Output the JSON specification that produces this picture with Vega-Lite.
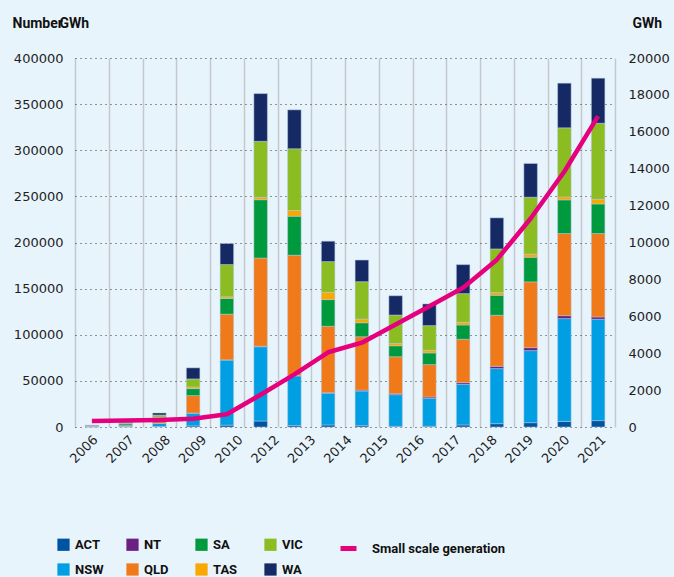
{
  "$schema": "https://vega.github.io/schema/vega-lite/v6.json",
  "width": 540,
  "height": 369,
  "autosize": {"type": "none"},
  "padding": {"left": 75, "top": 58, "right": 59, "bottom": 150},
  "background": "#e8f4fc",
  "config": {
    "view": {"stroke": null},
    "font": "DejaVu Sans",
    "axis": {"labelFont": "DejaVu Sans", "labelFontSize": 13, "labelColor": "#1e1e1e"},
    "legend": {"labelFont": "Roboto", "labelFontSize": 13, "labelFontWeight": "bold", "labelColor": "#111111"}
  },
  "datasets": {
    "installs": [
      {"year": "2006", "state": "ACT", "count": 50}, {"year": "2006", "state": "NSW", "count": 300}, {"year": "2006", "state": "NT", "count": 20}, {"year": "2006", "state": "QLD", "count": 300}, {"year": "2006", "state": "SA", "count": 500}, {"year": "2006", "state": "TAS", "count": 30}, {"year": "2006", "state": "VIC", "count": 400}, {"year": "2006", "state": "WA", "count": 400},
      {"year": "2007", "state": "ACT", "count": 100}, {"year": "2007", "state": "NSW", "count": 800}, {"year": "2007", "state": "NT", "count": 30}, {"year": "2007", "state": "QLD", "count": 600}, {"year": "2007", "state": "SA", "count": 2000}, {"year": "2007", "state": "TAS", "count": 50}, {"year": "2007", "state": "VIC", "count": 700}, {"year": "2007", "state": "WA", "count": 500},
      {"year": "2008", "state": "ACT", "count": 500}, {"year": "2008", "state": "NSW", "count": 3500}, {"year": "2008", "state": "NT", "count": 100}, {"year": "2008", "state": "QLD", "count": 3000}, {"year": "2008", "state": "SA", "count": 3300}, {"year": "2008", "state": "TAS", "count": 300}, {"year": "2008", "state": "VIC", "count": 2300}, {"year": "2008", "state": "WA", "count": 2200},
      {"year": "2009", "state": "ACT", "count": 1200}, {"year": "2009", "state": "NSW", "count": 13600}, {"year": "2009", "state": "NT", "count": 400}, {"year": "2009", "state": "QLD", "count": 18800}, {"year": "2009", "state": "SA", "count": 7600}, {"year": "2009", "state": "TAS", "count": 1800}, {"year": "2009", "state": "VIC", "count": 8700}, {"year": "2009", "state": "WA", "count": 12000},
      {"year": "2010", "state": "ACT", "count": 2000}, {"year": "2010", "state": "NSW", "count": 70500}, {"year": "2010", "state": "NT", "count": 300}, {"year": "2010", "state": "QLD", "count": 49500}, {"year": "2010", "state": "SA", "count": 17000}, {"year": "2010", "state": "TAS", "count": 1800}, {"year": "2010", "state": "VIC", "count": 35000}, {"year": "2010", "state": "WA", "count": 22800},
      {"year": "2011", "state": "ACT", "count": 6500}, {"year": "2011", "state": "NSW", "count": 80500}, {"year": "2011", "state": "NT", "count": 500}, {"year": "2011", "state": "QLD", "count": 95600}, {"year": "2011", "state": "SA", "count": 63300}, {"year": "2011", "state": "TAS", "count": 2500}, {"year": "2011", "state": "VIC", "count": 60800}, {"year": "2011", "state": "WA", "count": 51700},
      {"year": "2012", "state": "ACT", "count": 1500}, {"year": "2012", "state": "NSW", "count": 53900}, {"year": "2012", "state": "NT", "count": 300}, {"year": "2012", "state": "QLD", "count": 130500}, {"year": "2012", "state": "SA", "count": 42300}, {"year": "2012", "state": "TAS", "count": 6200}, {"year": "2012", "state": "VIC", "count": 66900}, {"year": "2012", "state": "WA", "count": 42200},
      {"year": "2013", "state": "ACT", "count": 2200}, {"year": "2013", "state": "NSW", "count": 34500}, {"year": "2013", "state": "NT", "count": 500}, {"year": "2013", "state": "QLD", "count": 72000}, {"year": "2013", "state": "SA", "count": 28900}, {"year": "2013", "state": "TAS", "count": 7900}, {"year": "2013", "state": "VIC", "count": 33300}, {"year": "2013", "state": "WA", "count": 22100},
      {"year": "2014", "state": "ACT", "count": 1400}, {"year": "2014", "state": "NSW", "count": 37600}, {"year": "2014", "state": "NT", "count": 1000}, {"year": "2014", "state": "QLD", "count": 57800}, {"year": "2014", "state": "SA", "count": 15200}, {"year": "2014", "state": "TAS", "count": 4000}, {"year": "2014", "state": "VIC", "count": 40500}, {"year": "2014", "state": "WA", "count": 23500},
      {"year": "2015", "state": "ACT", "count": 700}, {"year": "2015", "state": "NSW", "count": 34300}, {"year": "2015", "state": "NT", "count": 1000}, {"year": "2015", "state": "QLD", "count": 40150}, {"year": "2015", "state": "SA", "count": 11900}, {"year": "2015", "state": "TAS", "count": 2500}, {"year": "2015", "state": "VIC", "count": 30800}, {"year": "2015", "state": "WA", "count": 20900},
      {"year": "2016", "state": "ACT", "count": 800}, {"year": "2016", "state": "NSW", "count": 30300}, {"year": "2016", "state": "NT", "count": 1400}, {"year": "2016", "state": "QLD", "count": 35100}, {"year": "2016", "state": "SA", "count": 12700}, {"year": "2016", "state": "TAS", "count": 2800}, {"year": "2016", "state": "VIC", "count": 26800}, {"year": "2016", "state": "WA", "count": 23500},
      {"year": "2017", "state": "ACT", "count": 2200}, {"year": "2017", "state": "NSW", "count": 44100}, {"year": "2017", "state": "NT", "count": 1800}, {"year": "2017", "state": "QLD", "count": 47000}, {"year": "2017", "state": "SA", "count": 15500}, {"year": "2017", "state": "TAS", "count": 2900}, {"year": "2017", "state": "VIC", "count": 31100}, {"year": "2017", "state": "WA", "count": 31400},
      {"year": "2018", "state": "ACT", "count": 3600}, {"year": "2018", "state": "NSW", "count": 59700}, {"year": "2018", "state": "NT", "count": 2500}, {"year": "2018", "state": "QLD", "count": 55300}, {"year": "2018", "state": "SA", "count": 21700}, {"year": "2018", "state": "TAS", "count": 2900}, {"year": "2018", "state": "VIC", "count": 47300}, {"year": "2018", "state": "WA", "count": 33700},
      {"year": "2019", "state": "ACT", "count": 4700}, {"year": "2019", "state": "NSW", "count": 78100}, {"year": "2019", "state": "NT", "count": 3200}, {"year": "2019", "state": "QLD", "count": 71300}, {"year": "2019", "state": "SA", "count": 26700}, {"year": "2019", "state": "TAS", "count": 3300}, {"year": "2019", "state": "VIC", "count": 61800}, {"year": "2019", "state": "WA", "count": 36500},
      {"year": "2020", "state": "ACT", "count": 6100}, {"year": "2020", "state": "NSW", "count": 111400}, {"year": "2020", "state": "NT", "count": 3200}, {"year": "2020", "state": "QLD", "count": 89000}, {"year": "2020", "state": "SA", "count": 36500}, {"year": "2020", "state": "TAS", "count": 3200}, {"year": "2020", "state": "VIC", "count": 74900}, {"year": "2020", "state": "WA", "count": 48400},
      {"year": "2021", "state": "ACT", "count": 6900}, {"year": "2021", "state": "NSW", "count": 109900}, {"year": "2021", "state": "NT", "count": 2500}, {"year": "2021", "state": "QLD", "count": 90400}, {"year": "2021", "state": "SA", "count": 32100}, {"year": "2021", "state": "TAS", "count": 5100}, {"year": "2021", "state": "VIC", "count": 82400}, {"year": "2021", "state": "WA", "count": 48800}
    ],
    "generation": [
      {"year": "2006", "gwh": 330}, {"year": "2007", "gwh": 350}, {"year": "2008", "gwh": 380}, {"year": "2009", "gwh": 450},
      {"year": "2010", "gwh": 690}, {"year": "2011", "gwh": 1750}, {"year": "2012", "gwh": 2850}, {"year": "2013", "gwh": 4050},
      {"year": "2014", "gwh": 4570}, {"year": "2015", "gwh": 5550}, {"year": "2016", "gwh": 6550}, {"year": "2017", "gwh": 7550},
      {"year": "2018", "gwh": 9070}, {"year": "2019", "gwh": 11300}, {"year": "2020", "gwh": 13850}, {"year": "2021", "gwh": 16850}
    ],
    "labels": [
      {"label": "2006"}, {"label": "2007"}, {"label": "2008"}, {"label": "2009"}, {"label": "2010"},
      {"label": "2012"}, {"label": "2013"}, {"label": "2014"}, {"label": "2015"}, {"label": "2016"},
      {"label": "2017"}, {"label": "2018"}, {"label": "2019"}, {"label": "2020"}, {"label": "2021"}
    ]
  },
  "layer": [
    {
      "layer": [
        {
          "data": {"name": "installs"},
          "mark": {"type": "bar", "width": {"band": 0.4}, "stroke": "#b9c9dc", "strokeWidth": 0.5},
          "encoding": {
            "x": {
              "field": "year", "type": "nominal",
              "scale": {"paddingInner": 0, "paddingOuter": 0},
              "axis": {
                "orient": "top", "labels": false, "ticks": false, "domain": false,
                "grid": true, "tickBand": "extent", "gridColor": "#c4c8cd", "gridWidth": 1.5,
                "title": "GWh", "titleX": -16, "titleY": -31, "titleAngle": 0,
                "titleAlign": "left", "titleBaseline": "alphabetic",
                "titleFont": "Roboto", "titleFontSize": 14, "titleFontWeight": "bold", "titleColor": "#111111"
              }
            },
            "y": {
              "field": "count", "type": "quantitative", "stack": "zero",
              "scale": {"domain": [0, 400000], "nice": false},
              "axis": {
                "orient": "left",
                "values": [0, 50000, 100000, 150000, 200000, 250000, 300000, 350000, 400000],
                "format": "d", "grid": true, "gridDash": [1, 4], "gridColor": "#333333", "gridWidth": 1.2,
                "ticks": false, "domain": false, "labelPadding": 12,
                "title": "Number", "titleX": -63, "titleY": -31, "titleAngle": 0,
                "titleAlign": "left", "titleBaseline": "alphabetic",
                "titleFont": "Roboto", "titleFontSize": 14, "titleFontWeight": "bold", "titleColor": "#111111"
              }
            },
            "color": {
              "field": "state", "type": "nominal",
              "scale": {
                "domain": ["ACT", "NT", "SA", "VIC", "NSW", "QLD", "TAS", "WA"],
                "range": ["#0053a0", "#6b2182", "#009a3e", "#8bbd23", "#009fe3", "#f07a1a", "#f8a800", "#152a65"]
              },
              "legend": {
                "orient": "none", "legendX": -18, "legendY": 480, "title": null,
                "columns": 4, "direction": "horizontal", "gridAlign": "all",
                "columnPadding": 22, "rowPadding": 11, "symbolType": "square", "symbolSize": 150,
                "symbolStrokeWidth": 0, "labelOffset": 5, "padding": 0
              }
            },
            "order": {"field": "state", "sort": "ascending"}
          }
        },
        {
          "data": {"name": "generation"},
          "mark": {"type": "line", "strokeWidth": 4.5, "strokeJoin": "round"},
          "encoding": {
            "x": {"field": "year", "type": "nominal"},
            "y": {
              "field": "gwh", "type": "quantitative",
              "scale": {"domain": [0, 20000], "nice": false},
              "axis": {
                "orient": "right",
                "values": [0, 2000, 4000, 6000, 8000, 10000, 12000, 14000, 16000, 18000, 20000],
                "format": "d", "grid": false, "ticks": false, "domain": false, "labelPadding": 13,
                "title": "GWh", "titleX": 17, "titleY": -31, "titleAngle": 0,
                "titleAlign": "left", "titleBaseline": "alphabetic",
                "titleFont": "Roboto", "titleFontSize": 14, "titleFontWeight": "bold", "titleColor": "#111111"
              }
            },
            "stroke": {
              "datum": "Small scale generation", "type": "nominal",
              "scale": {"range": ["#e5007e"]},
              "legend": {
                "orient": "none", "legendX": 263, "legendY": 480, "title": null,
                "symbolType": "stroke", "symbolStrokeWidth": 5, "symbolSize": 256,
                "labelOffset": 13, "padding": 0
              }
            }
          }
        }
      ],
      "resolve": {"scale": {"y": "independent"}}
    },
    {
      "data": {"name": "labels"},
      "mark": {"type": "point", "opacity": 0},
      "encoding": {
        "x": {
          "field": "label", "type": "ordinal", "sort": null,
          "scale": {"type": "point", "padding": 0.44},
          "axis": {
            "orient": "bottom", "labelAngle": -45, "ticks": false, "domain": false,
            "grid": false, "title": null, "labelPadding": 6
          }
        }
      }
    }
  ],
  "resolve": {"scale": {"x": "independent", "y": "independent"}}
}
